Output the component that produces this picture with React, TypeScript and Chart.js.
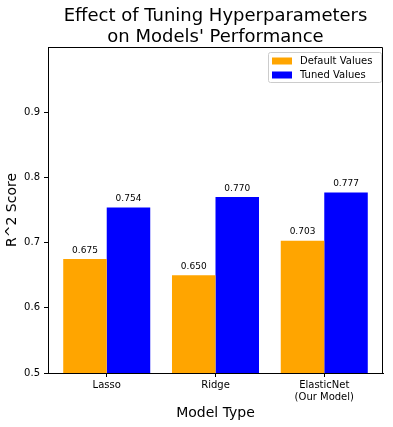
import React, { useEffect, useRef } from 'react';
import { Chart, registerables } from 'chart.js';

Chart.register(...registerables);

const categories: (string | string[])[] = ['Lasso', 'Ridge', ['ElasticNet', '(Our Model)']];
const defaultValues = [0.675, 0.65, 0.703];
const tunedValues = [0.754, 0.77, 0.777];
const seriesNames = ['Default Values', 'Tuned Values'];
const seriesColors = ['#FFA500', '#0000FF'];
const yTickValues = [0.5, 0.6, 0.7, 0.8, 0.9];
const titleLines = ['Effect of Tuning Hyperparameters', "on Models' Performance"];
const xAxisTitle = 'Model Type';
const yAxisTitle = 'R^2 Score';

const FONT = "'DejaVu Sans', sans-serif";

const overlayPlugin = {
  id: 'overlay',
  afterDraw(chart: any) {
    const ctx = chart.ctx;
    const area = chart.chartArea;
    ctx.save();
    // top & right spines
    ctx.strokeStyle = '#000';
    ctx.lineWidth = 1;
    ctx.beginPath();
    ctx.moveTo(Math.round(area.left) + 0.5, Math.round(area.top) + 0.5);
    ctx.lineTo(Math.round(area.right) - 0.5, Math.round(area.top) + 0.5);
    ctx.lineTo(Math.round(area.right) - 0.5, Math.round(area.bottom) + 0.5);
    ctx.stroke();

    // value labels
    ctx.fillStyle = '#000';
    ctx.font = `9px ${FONT}`;
    ctx.textAlign = 'center';
    ctx.textBaseline = 'bottom';
    chart.data.datasets.forEach((ds: any, di: number) => {
      const meta = chart.getDatasetMeta(di);
      meta.data.forEach((el: any, i: number) => {
        const v = ds.data[i].y;
        ctx.fillText(v.toFixed(3), el.x, el.y - 4);
      });
    });

    // title
    const cx = (area.left + area.right) / 2;
    ctx.font = `18px ${FONT}`;
    ctx.textBaseline = 'alphabetic';
    ctx.fillText(titleLines[0], cx, 21);
    ctx.fillText(titleLines[1], cx, 42);

    // axis titles
    ctx.font = `14px ${FONT}`;
    ctx.textBaseline = 'middle';
    ctx.fillText(xAxisTitle, cx, 413);
    ctx.save();
    ctx.translate(12, (area.top + area.bottom) / 2);
    ctx.rotate(-Math.PI / 2);
    ctx.fillText(yAxisTitle, 0, 0);
    ctx.restore();

    // legend
    const bx = 268, by = 52, bw = 113, bh = 30;
    ctx.fillStyle = 'rgba(255,255,255,0.8)';
    ctx.strokeStyle = '#cccccc';
    ctx.beginPath();
    const r = 2;
    ctx.moveTo(bx + r + 0.5, by + 0.5);
    ctx.arcTo(bx + bw + 0.5, by + 0.5, bx + bw + 0.5, by + bh + 0.5, r);
    ctx.arcTo(bx + bw + 0.5, by + bh + 0.5, bx + 0.5, by + bh + 0.5, r);
    ctx.arcTo(bx + 0.5, by + bh + 0.5, bx + 0.5, by + 0.5, r);
    ctx.arcTo(bx + 0.5, by + 0.5, bx + bw + 0.5, by + 0.5, r);
    ctx.closePath();
    ctx.fill();
    ctx.stroke();
    ctx.font = `10px ${FONT}`;
    ctx.textAlign = 'left';
    ctx.textBaseline = 'middle';
    chart.data.datasets.forEach((ds: any, di: number) => {
      const yc = by + 9 + di * 14;
      ctx.fillStyle = ds.backgroundColor;
      ctx.fillRect(bx + 4, yc - 3.5, 20, 7);
      ctx.fillStyle = '#000';
      ctx.fillText(ds.label, bx + 32, yc);
    });
    ctx.restore();
  },
};

export default function App() {
  const ref = useRef<HTMLCanvasElement | null>(null);
  useEffect(() => {
    document.body.style.margin = '0';
    const toPoints = (vals: number[]) => vals.map((v, i) => ({ x: i, y: v }));
    const chart = new Chart(ref.current as HTMLCanvasElement, {
      type: 'bar',
      data: {
        datasets: [
          { label: seriesNames[0], data: toPoints(defaultValues), backgroundColor: seriesColors[0], borderWidth: 0 },
          { label: seriesNames[1], data: toPoints(tunedValues), backgroundColor: seriesColors[1], borderWidth: 0 },
        ],
      },
      options: {
        animation: false,
        responsive: true,
        maintainAspectRatio: false,
        layout: { padding: { top: 47, right: 10, left: 0, bottom: 0 } },
        datasets: { bar: { categoryPercentage: 0.8, barPercentage: 1.0 } },
        plugins: { legend: { display: false }, title: { display: false }, tooltip: { enabled: false } },
        scales: {
          x: {
            type: 'linear',
            min: -0.54,
            max: 2.54,
            offset: false,
            afterBuildTicks: (scale: any) => {
              scale.ticks = categories.map((_, i) => ({ value: i }));
            },
            afterFit: (scale: any) => {
              scale.height = 54;
            },
            grid: { offset: false, drawOnChartArea: false, drawTicks: true, tickLength: 4, color: '#000', lineWidth: 1 },
            border: { display: true, color: '#000', width: 1 },
            ticks: {
              color: '#000',
              font: { family: FONT, size: 10 },
              padding: 2,
              maxRotation: 0,
              autoSkip: false,
              callback: (v: any) => categories[Math.round(v)] as any,
            },
          },
          y: {
            type: 'linear',
            min: 0.5,
            max: 1.0,
            afterBuildTicks: (scale: any) => {
              scale.ticks = yTickValues.map((v) => ({ value: v }));
            },
            afterFit: (scale: any) => {
              scale.width = 48;
            },
            grid: { drawOnChartArea: false, drawTicks: true, tickLength: 4, color: '#000', lineWidth: 1 },
            border: { display: true, color: '#000', width: 1 },
            ticks: {
              color: '#000',
              font: { family: FONT, size: 10 },
              padding: 4,
              callback: (v: any) => Number(v).toFixed(1),
            },
          },
        },
      },
      plugins: [overlayPlugin],
    });
    return () => chart.destroy();
  }, []);
  return (
    <div style={{ position: 'relative', width: 393, height: 427 }}>
      <canvas ref={ref} />
    </div>
  );
}
